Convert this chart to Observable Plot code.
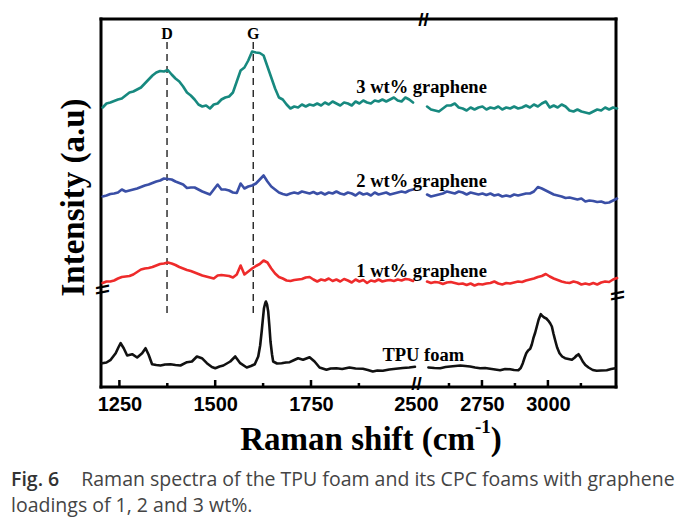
<!DOCTYPE html>
<html><head><meta charset="utf-8">
<script src="https://cdn.jsdelivr.net/npm/d3@7"></script>
<script src="https://cdn.jsdelivr.net/npm/@observablehq/plot@0.6"></script>
<style>
body{margin:0;background:#fff;width:677px;height:517px;overflow:hidden}
#caption{font-family:"Open Sans",sans-serif;font-size:19.5px;line-height:26px;color:#444;padding-left:11px;white-space:nowrap}
#caption b{color:#333;font-weight:600;margin-right:22px}
</style></head><body>
<div id="chart"></div>
<div id="caption"><b>Fig. 6</b>Raman spectra of the TPU foam and its CPC foams with graphene<br>loadings of 1, 2 and 3 wt%.</div>
<script>
// ---------- data (Raman shift in cm-1, intensity in arbitrary units with vertical offsets) ----------
const seriesNames = ["3 wt% graphene", "2 wt% graphene", "1 wt% graphene", "TPU foam"];
const seriesColors = ["#17897f", "#3a4fa6", "#ee2b2b", "#111111"];

const wnLeft = [1205,1215,1225,1235,1245,1255,1265,1275,1285,1295,
1305,1315,1325,1335,1345,1355,1365,1375,1385,1395,
1405,1415,1425,1435,1445,1455,1465,1475,1485,1495,
1505,1515,1525,1535,1545,1555,1565,1575,1585,1595,
1605,1615,1625,1635,1645,1655,1665,1675,1685,1695,
1705,1715,1725,1735,1745,1755,1765,1775,1785,1795,
1805,1815,1825,1835,1845,1855,1865,1875,1885,1895,
1905,1915,1925,1935,1945,1955,1965,1975,1985,1995,
2005,2015];
const wnRight = [2540,2555,2570,2585,2600,2615,2630,2645,2660,2675,
2690,2705,2720,2735,2750,2765,2780,2795,2810,2825,
2840,2855,2870,2885,2900,2915,2930,2945,2960,2975,
2990,3005,3020,3035,3050,3065,3080,3095,3110,3125,
3140,3155,3170,3185,3200,3215,3230,3245,3260];

const g3Left = [280,284,285,286.5,288,289,292,295,296,298,
300,304,308,312,315,316.5,316,317.5,313,309,
306,301,295,292,288,283,281,282,279,283,
284,288,290,291,295,306,317,320,327,336,
335,334.5,332,321,310,299,290,288,283,279,
281,280,283,281,283,282,284,282,285,283,
286,284,282,285,284,282,286,284,287,285,
284,287,286,288,286,288,290,287,286,290,
288,285];
const g3Right = [281,278,277,276,279,282,282,284,280,279,
277,280,278,280,281,278,280,279,281,278,
280,279,281,279,280,282,280,283,281,284,
286,280,282,280,283,281,277,276,278,276,
275,274,276,278,277,280,278,280,279];

const g2Left = [191,192,193.5,194,195,198,196,197,198,199,
200.5,202,203,204.5,206,207,209,208.5,208,206,
204.5,203,199.5,200,200,198,196,194.5,193,198,
203,198,198,197,195,194.5,204,199,201,202,
204,208,212,206,201,198,195,193.5,192.5,194,
195,194,196,195,194,195.5,193.5,195,193,195,
194,196,194,193,195,194,192,195,193,194,
192,195,193,194,195,193,194,195,196,195,
197,198];
const g2Right = [193,191,192,193,194,196,195,194,196,195,
193,195,194,193,194,192.5,194,192,193,191,
192,191,193,192,193,194,194,196,200.5,199,
197,195,193,192,191,189.5,190,189,188,189,
186,187,186.5,185.5,186,184.5,185,187,189];

const g1Left = [104.5,106,106,107,109,110.5,111,111.5,113,115.5,
118,119,119.5,120.5,122,123.5,124,125,124,122.5,
120.5,119,117.5,116.5,115,113.5,112,111,110,109,
112,112.5,112,111.5,110,113,122,113,116,119,
121.5,123.5,127,125,119,114,110.5,109,107,106.5,
107.5,108,108.5,110,110.5,108,106,108,107,109,
106.5,108,106,108.5,107,105,108,106,107.5,104.5,
107,106,108,106,107,107.5,106.5,108,107,108.5,
108,106.5];
const g1Right = [106,104.5,105.5,105,103.5,105,105.5,104.5,103.5,104,
102.5,104,102,103.5,103,104,104.5,106,104,103,
104.5,104,105,106,105.5,107,108,109,110.5,111.5,
113.5,111,109,107.5,106,105,104.5,106,105,103,
104,103,104.5,103,105,106,105.5,108,109.5];

const tpuLeftX = [1204,1215,1226,1239,1246,1252,1260,1269,1282,1295,
1308,1317,1325,1334,1345,1356,1368,1382,1395,1408,
1425,1438,1451,1464,1477,1490,1499,1510,1520,1538,
1551,1564,1581,1592,1602,1611,1616,1620,1623,1626,
1629,1631,1634,1637,1640,1643,1647,1650,1660,1672,
1683,1693,1705,1715,1728,1745,1758,1771,1789,1800,
1815,1830,1849,1865,1884,1897,1910,1922,1936,1953,
1970,1988,2005,2020];
const tpuLeftY = [24.3,25,27.7,34.3,40,44.3,39.3,32,33.3,30,
34.3,39.3,32.7,23.3,22.5,22,23,23.3,22.5,22,
25.3,26,31,29.3,24.3,20.5,19.3,21,22,26,
31,24.3,20,21.5,23.3,31,42,56,68,79.3,
84,86,83,76,62,46,33,26,24,24.3,
25,25.3,27.5,29.3,27.7,30.3,26,20,17.7,19,
19.3,18.5,20,19,18.7,17.5,16,17,16.7,18,
18.7,19.5,20,20.7];
const tpuRightX = [2545,2568,2590,2610,2628,2647,2666,2685,2703,2722,
2741,2760,2779,2798,2817,2836,2855,2870,2886,2895,
2903,2910,2916,2923,2931,2937,2943,2950,2956,2963,
2971,2977,2984,2992,3000,3007,3013,3019,3025,3033,
3042,3052,3063,3076,3089,3100,3107,3114,3122,3130,
3140,3152,3168,3183,3200,3221,3238,3253];
const tpuRightY = [20,19.5,19.3,20.5,21,21.5,22,21.5,21,20,
19.3,19.5,18.7,18,17.3,18.5,18.3,17.5,17.3,19.5,
24.3,30,34.3,37,38.7,43,49.3,55,61,68,
73.3,71.5,70,69,66.7,64,61,54,47.7,40,
34.3,31,29.3,28.5,27.7,30,32,33.3,30,26,
22.5,20,17.5,16.7,17,17.3,18.5,19.3];

const bandPositions = [1373, 1598];
const bandLabels = ["D", "G"];
const tickLabels = [1250, 1500, 1750, 2500, 2750, 3000];
const majorTickMarks = [1250, 1500, 1750, 2750, 3000];
const minorTickMarks = [1375, 1625, 1875, 2625, 2875, 3125];
const xTitle = "Raman shift (cm-1)";
const yTitle = "Intensity (a.u)";

// ---------- table ----------
const rows = [];
function addSeg(name, seg, xs, ys) {
  xs.forEach((x, i) => rows.push({series: name, key: name + "|" + seg, wn: x, v: ys[i]}));
}
addSeg(seriesNames[0], "L", wnLeft, g3Left);
addSeg(seriesNames[0], "R", wnRight, g3Right);
addSeg(seriesNames[1], "L", wnLeft, g2Left);
addSeg(seriesNames[1], "R", wnRight, g2Right);
addSeg(seriesNames[2], "L", wnLeft, g1Left);
addSeg(seriesNames[2], "R", wnRight, g1Right);
addSeg(seriesNames[3], "L", tpuLeftX, tpuLeftY);
addSeg(seriesNames[3], "R", tpuRightX, tpuRightY);

// label anchors (wavenumber, intensity)
const seriesLabelX = [1867, 1867, 1867, 1935];
const seriesLabelY = [300, 206, 116, 32];

const xDomain = [1202, 2024, 2500, 3258];
const yDomain = [0, 368];

// frame edges (from the scale domains)
const xEnds = [xDomain[0], xDomain[3]];
const hEdges = yDomain.map(v => ({a: xEnds[0], b: xEnds[1], v}));

const serif = "Liberation Serif, Times New Roman, serif";
const sans = "Liberation Sans, Arial, sans-serif";
const breakStyle = {fontFamily: sans, fontWeight: "bold", fontSize: 19, fill: "black", textAnchor: "middle", lineAnchor: "middle"};

const chart = Plot.plot({
  width: 677,
  height: 466,
  marginLeft: 101, marginRight: 61, marginTop: 19, marginBottom: 79,
  x: {type: "linear", domain: xDomain, range: [101, 416, 416, 616]},
  y: {domain: yDomain, axis: null},
  color: {domain: seriesNames, range: seriesColors},
  marks: [
    Plot.ruleX(bandPositions, {x: d => d, y1: 74, y2: 345, stroke: "#222", strokeWidth: 1.4, strokeDasharray: "7,5"}),
    // frame as thin filled rectangles
    Plot.rect(hEdges, {x1: "a", x2: "b", y1: "v", y2: "v", fill: "black", insetTop: -1.5, insetBottom: -1.5, insetLeft: -1.5, insetRight: -1.5}),
    Plot.rect(xEnds, {x1: d => d, x2: d => d, y1: yDomain[0], y2: yDomain[1], fill: "black", insetTop: -1.5, insetBottom: -1.5, insetLeft: -1.5, insetRight: -1.5}),
    // inward ticks as thin filled rectangles
    Plot.rect(majorTickMarks, {x1: d => d, x2: d => d, y1: 0, y2: 7, fill: "black", insetLeft: -1.25, insetRight: -1.25}),
    Plot.rect(minorTickMarks, {x1: d => d, x2: d => d, y1: 0, y2: 4, fill: "black", insetLeft: -1.25, insetRight: -1.25}),
    Plot.line(rows, {x: "wn", y: "v", z: "key", stroke: "series", strokeWidth: 2.6, strokeLinejoin: "round"}),
    Plot.text(bandPositions, {x: d => d, y: 354, text: (d, i) => bandLabels[i], fontFamily: serif, fontWeight: "bold", fontSize: 16, fill: "black"}),
    Plot.text(seriesNames, {x: (d, i) => seriesLabelX[i], y: (d, i) => seriesLabelY[i], text: d => d, textAnchor: "start", fontFamily: serif, fontWeight: "bold", fontSize: 18.5, fill: "black"}),
    Plot.axisX({ticks: tickLabels, tickSize: 0, tickPadding: 9, tickFormat: d => String(d), fontSize: 20, fontWeight: "bold", fontFamily: sans, fill: "black", label: null}),
    // axis breaks
    Plot.text([2024], {x: d => d, frameAnchor: "bottom", dy: -4, text: () => "//", ...breakStyle}),
    Plot.text([2024], {x: d => d, frameAnchor: "top", dx: 7, text: () => "//", ...breakStyle}),
    Plot.text([98], {y: d => d, frameAnchor: "left", dx: 1, text: () => "\\\\", rotate: 90, ...breakStyle}),
    Plot.text([92], {y: d => d, frameAnchor: "right", dx: 1, text: () => "\\\\", rotate: 90, ...breakStyle}),
    // axis titles
    Plot.text([xTitle], {frameAnchor: "bottom", dx: 12, dy: 52, text: d => d, textAnchor: "middle", lineAnchor: "middle", fontFamily: serif, fontWeight: "bold", fontSize: 33, fill: "black"}),
    Plot.text([yTitle], {frameAnchor: "left", dx: -28, dy: -6, rotate: -90, text: d => d, textAnchor: "middle", lineAnchor: "middle", fontFamily: serif, fontWeight: "bold", fontSize: 33, fill: "black"})
  ]
});

// superscript in the x-axis title
chart.querySelectorAll("text").forEach(t => {
  if (t.textContent === xTitle) {
    t.textContent = "";
    const ns = "http://www.w3.org/2000/svg";
    const a = document.createElementNS(ns, "tspan"); a.textContent = "Raman shift (cm";
    const b = document.createElementNS(ns, "tspan"); b.textContent = "-1"; b.setAttribute("font-size", "19"); b.setAttribute("dy", "-17");
    const c = document.createElementNS(ns, "tspan"); c.textContent = ")"; c.setAttribute("dy", "17");
    t.append(a, b, c);
  }
});
document.getElementById("chart").append(chart);
</script>
</body></html>
